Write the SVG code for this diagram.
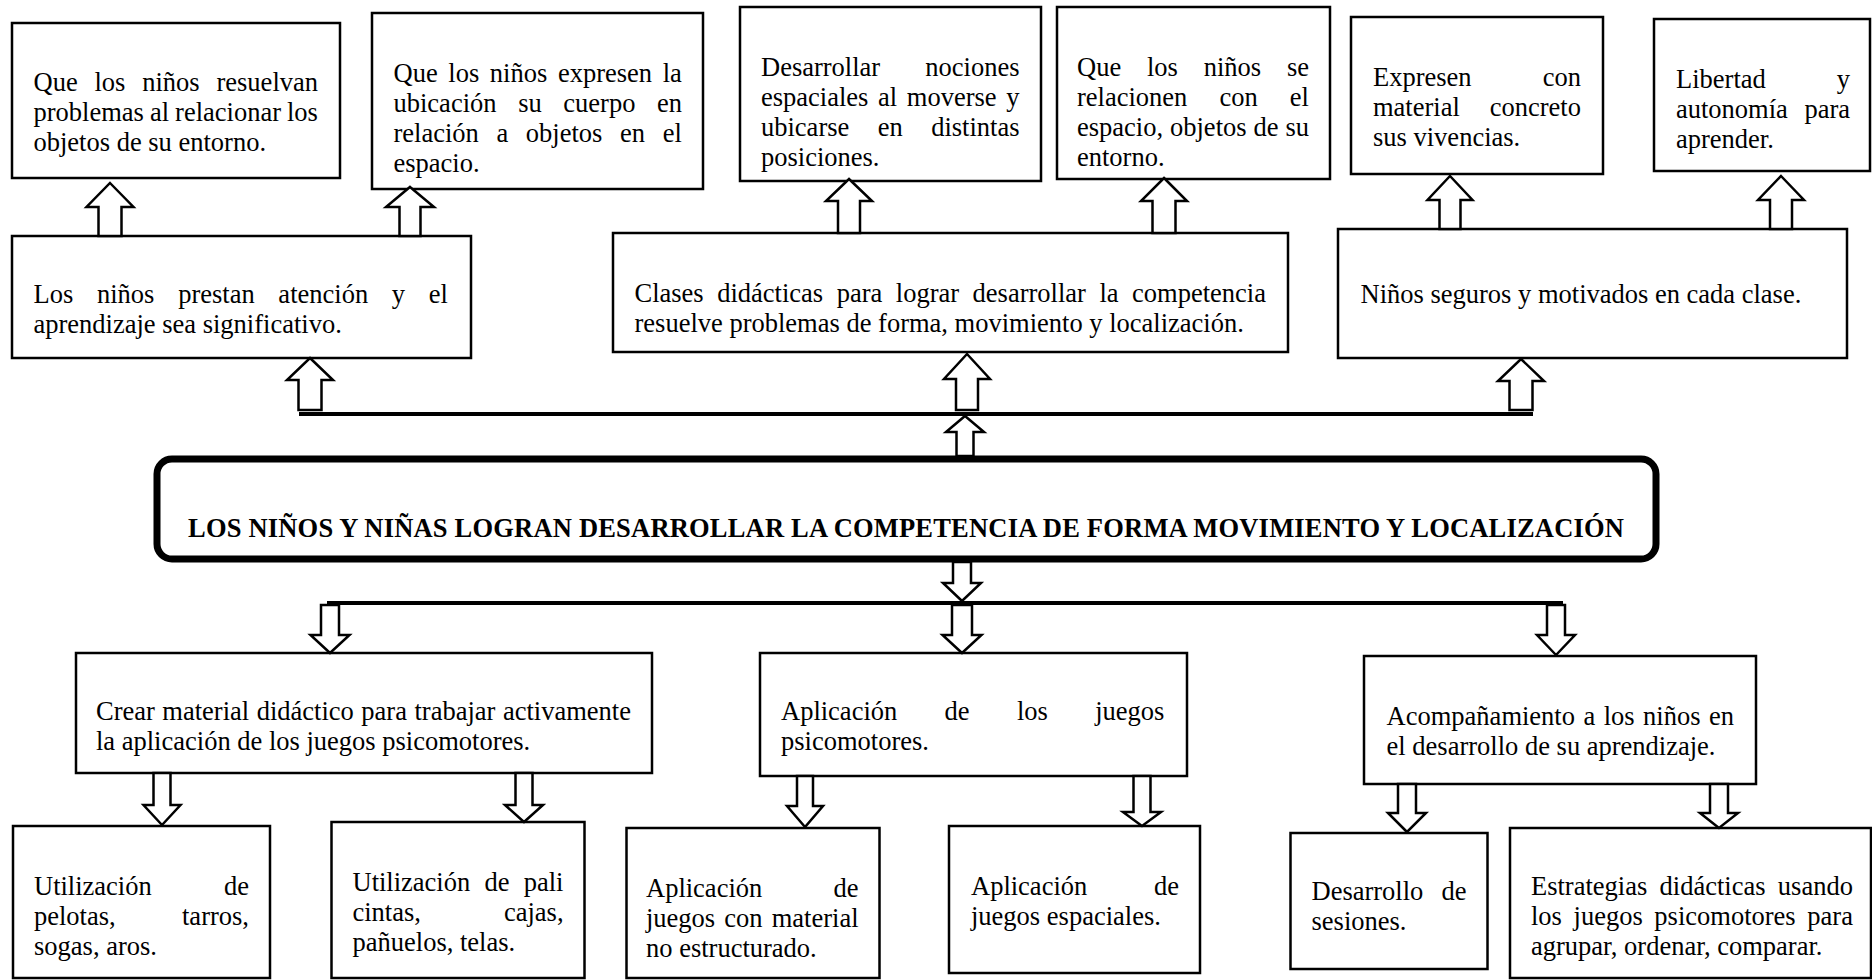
<svg xmlns="http://www.w3.org/2000/svg" width="1872" height="980" viewBox="0 0 1872 980">
<style>
.box{fill:#fff;stroke:#000;stroke-width:2.5}
.main{fill:#fff;stroke:#000;stroke-width:7}
.t{font-family:"Liberation Serif","Times New Roman",serif;font-size:26.5px;fill:#000}
.b{font-weight:bold;text-anchor:middle}
.arr{fill:#fff;stroke:#000;stroke-width:2.5;stroke-linejoin:miter}
.ln{stroke:#000;stroke-width:4;fill:none}
</style>
<rect width="1872" height="980" fill="#fff"/>

<g id="nA"><rect class="box" x="12" y="23" width="328" height="155"/>
<text class="t" x="33.5" y="91" word-spacing="10.2">Que los niños resuelvan</text>
<text class="t" x="33.5" y="121" word-spacing="-0.6">problemas al relacionar los</text>
<text class="t" x="33.5" y="151">objetos de su entorno.</text></g>

<g id="nB"><rect class="box" x="372" y="13" width="331" height="176"/>
<text class="t" x="393.5" y="82" word-spacing="4">Que los niños expresen la</text>
<text class="t" x="393.5" y="112" word-spacing="15">ubicación su cuerpo en</text>
<text class="t" x="393.5" y="142" word-spacing="11">relación a objetos en el</text>
<text class="t" x="393.5" y="172">espacio.</text></g>

<g id="nC"><rect class="box" x="740" y="7" width="301" height="174"/>
<text class="t" x="761" y="76" word-spacing="38.5">Desarrollar nociones</text>
<text class="t" x="761" y="106" word-spacing="3">espaciales al moverse y</text>
<text class="t" x="761" y="136" word-spacing="21.8">ubicarse en distintas</text>
<text class="t" x="761" y="166">posiciones.</text></g>

<g id="nD"><rect class="box" x="1057" y="7" width="273" height="172"/>
<text class="t" x="1077" y="76" word-spacing="19.2">Que los niños se</text>
<text class="t" x="1077" y="106" word-spacing="25.5">relacionen con el</text>
<text class="t" x="1077" y="136" word-spacing="0.3">espacio, objetos de su</text>
<text class="t" x="1077" y="166">entorno.</text></g>

<g id="nE"><rect class="box" x="1351" y="17" width="252" height="157"/>
<text class="t" x="1373" y="86" word-spacing="64.5">Expresen con</text>
<text class="t" x="1373" y="116" word-spacing="23.3">material concreto</text>
<text class="t" x="1373" y="146">sus vivencias.</text></g>

<g id="nF"><rect class="box" x="1654" y="19" width="216" height="152"/>
<text class="t" x="1676" y="88" word-spacing="64.3">Libertad y</text>
<text class="t" x="1676" y="118" word-spacing="9.9">autonomía para</text>
<text class="t" x="1676" y="148">aprender.</text></g>

<g id="nG"><rect class="box" x="12" y="236" width="459" height="122"/>
<text class="t" x="33.5" y="303" word-spacing="17.1">Los niños prestan atención y el</text>
<text class="t" x="33.5" y="333">aprendizaje sea significativo.</text></g>

<g id="nH"><rect class="box" x="613" y="233" width="675" height="119"/>
<text class="t" x="634.5" y="302" word-spacing="6.9">Clases didácticas para lograr desarrollar la competencia</text>
<text class="t" x="634.5" y="332">resuelve problemas de forma, movimiento y localización.</text></g>

<g id="nI"><rect class="box" x="1338" y="229" width="509" height="129"/>
<text class="t" x="1360.5" y="303">Niños seguros y motivados en cada clase.</text></g>

<g id="nMain"><rect class="main" x="157" y="459" width="1499" height="100" rx="15"/>
<text class="t b" x="906" y="537" textLength="1436" lengthAdjust="spacing">LOS NIÑOS Y NIÑAS LOGRAN DESARROLLAR LA COMPETENCIA DE FORMA MOVIMIENTO Y LOCALIZACIÓN</text></g>

<g id="nJ"><rect class="box" x="76" y="653" width="576" height="120"/>
<text class="t" x="96" y="720" word-spacing="0.9">Crear material didáctico para trabajar activamente</text>
<text class="t" x="96" y="750">la aplicación de los juegos psicomotores.</text></g>

<g id="nK"><rect class="box" x="760" y="653" width="427" height="123"/>
<text class="t" x="781" y="720" word-spacing="40.7">Aplicación de los juegos</text>
<text class="t" x="781" y="750">psicomotores.</text></g>

<g id="nL"><rect class="box" x="1364" y="656" width="392" height="128"/>
<text class="t" x="1386.6" y="725" word-spacing="1.85">Acompañamiento a los niños en</text>
<text class="t" x="1386.6" y="755">el desarrollo de su aprendizaje.</text></g>

<g id="nM"><rect class="box" x="13" y="826" width="257" height="152"/>
<text class="t" x="34" y="895" word-spacing="65.6">Utilización de</text>
<text class="t" x="34" y="925" word-spacing="59.7">pelotas, tarros,</text>
<text class="t" x="34" y="955">sogas, aros.</text></g>

<g id="nN"><rect class="box" x="331.5" y="822" width="253" height="156"/>
<text class="t" x="352.5" y="891" word-spacing="7.6">Utilización de pali</text>
<text class="t" x="352.5" y="921" word-spacing="76.4">cintas, cajas,</text>
<text class="t" x="352.5" y="951">pañuelos, telas.</text></g>

<g id="nO"><rect class="box" x="626.5" y="828" width="253" height="150"/>
<text class="t" x="646" y="897" word-spacing="64.6">Aplicación de</text>
<text class="t" x="646" y="927" word-spacing="2.5">juegos con material</text>
<text class="t" x="646" y="957">no estructurado.</text></g>

<g id="nP"><rect class="box" x="949" y="826" width="251" height="147"/>
<text class="t" x="971" y="895" word-spacing="60.1">Aplicación de</text>
<text class="t" x="971" y="925">juegos espaciales.</text></g>

<g id="nQ"><rect class="box" x="1290.5" y="833" width="197" height="136"/>
<text class="t" x="1311.5" y="900" word-spacing="11.5">Desarrollo de</text>
<text class="t" x="1311.5" y="930">sesiones.</text></g>

<g id="nR"><rect class="box" x="1510" y="828" width="361" height="150"/>
<text class="t" x="1531" y="895" word-spacing="5.7">Estrategias didácticas usando</text>
<text class="t" x="1531" y="925" word-spacing="5">los juegos psicomotores para</text>
<text class="t" x="1531" y="955">agrupar, ordenar, comparar.</text></g>

<g id="connectors">
<line class="ln" x1="299" y1="414" x2="1533" y2="414"/>
<line class="ln" x1="327" y1="603" x2="1563" y2="603"/>
<path class="arr" d="M110,183 L133.5,207 L121.5,207 L121.5,236 L98.5,236 L98.5,207 L86.5,207 Z"/>
<path class="arr" d="M410,187 L434,207 L420.5,207 L420.5,236 L399.5,236 L399.5,207 L386,207 Z"/>
<path class="arr" d="M849,179 L872,201 L860,201 L860,233 L838,233 L838,201 L826,201 Z"/>
<path class="arr" d="M1164,178 L1187,201 L1175.5,201 L1175.5,233 L1152.5,233 L1152.5,201 L1141,201 Z"/>
<path class="arr" d="M1450,176 L1472.5,200 L1460.5,200 L1460.5,229 L1439.5,229 L1439.5,200 L1427.5,200 Z"/>
<path class="arr" d="M1781,176 L1804,200 L1792,200 L1792,229 L1770,229 L1770,200 L1758,200 Z"/>
<path class="arr" d="M310,358 L333,380 L321.5,380 L321.5,410 L298.5,410 L298.5,380 L287,380 Z"/>
<path class="arr" d="M967,354 L990,379 L978,379 L978,410 L956,410 L956,379 L944,379 Z"/>
<path class="arr" d="M1521,359 L1544,381 L1532.5,381 L1532.5,410 L1509.5,410 L1509.5,381 L1498,381 Z"/>
<path class="arr" d="M965,416 L984,432 L973.5,432 L973.5,456 L956.5,456 L956.5,432 L946,432 Z"/>
<path class="arr" d="M962,601 L943,583 L953,583 L953,562 L971,562 L971,583 L981,583 Z"/>
<path class="arr" d="M330,653 L310.5,635 L321,635 L321,605 L339,605 L339,635 L349.5,635 Z"/>
<path class="arr" d="M962,653 L942.5,635 L952,635 L952,605 L972,605 L972,635 L981.5,635 Z"/>
<path class="arr" d="M1556,655 L1537,635 L1547,635 L1547,605 L1565,605 L1565,635 L1575,635 Z"/>
<path class="arr" d="M162,825 L143.5,805 L153.5,805 L153.5,773 L170.5,773 L170.5,805 L180.5,805 Z"/>
<path class="arr" d="M524,822 L505,805 L515.5,805 L515.5,773 L532.5,773 L532.5,805 L543,805 Z"/>
<path class="arr" d="M805,827 L787,806 L797,806 L797,776 L813,776 L813,806 L823,806 Z"/>
<path class="arr" d="M1142,826 L1123,812 L1133.5,812 L1133.5,776 L1150.5,776 L1150.5,812 L1161,812 Z"/>
<path class="arr" d="M1407,832 L1388,813 L1398,813 L1398,784 L1416,784 L1416,813 L1426,813 Z"/>
<path class="arr" d="M1719,828 L1700,813 L1710,813 L1710,784 L1728,784 L1728,813 L1738,813 Z"/>
</g>
</svg>
